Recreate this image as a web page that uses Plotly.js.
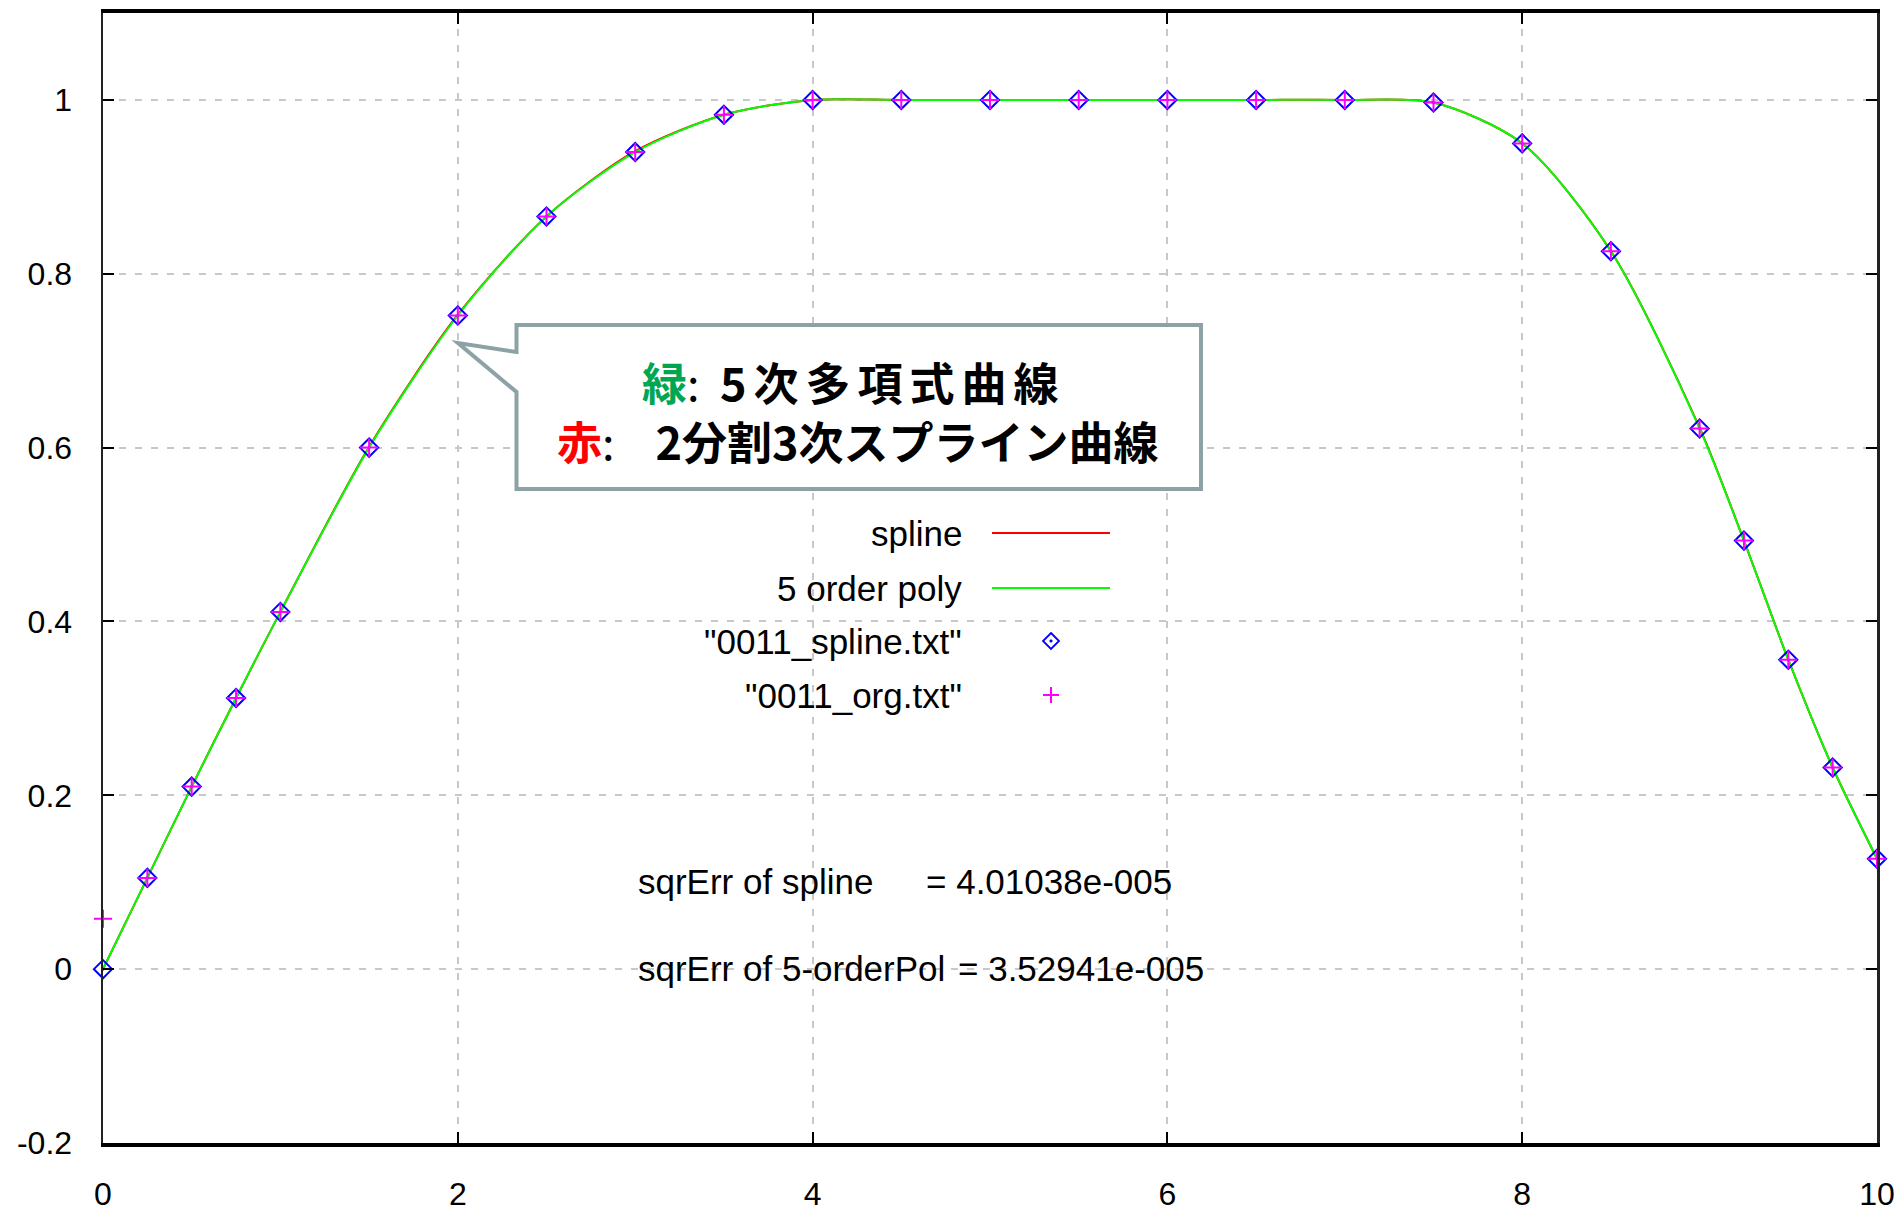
<!DOCTYPE html>
<html>
<head>
<meta charset="utf-8">
<script src="https://cdn.plot.ly/plotly-3.0.1.min.js"></script>
<style>
html,body{margin:0;padding:0;background:#ffffff;}
#chart{width:1897px;height:1212px;}
</style>
</head>
<body>
<div id="chart"></div>
<script>
// ---- data ----
const pointX   = [0, 0.25, 0.5, 0.75, 1, 1.5, 2, 2.5, 3, 3.5, 4, 4.5, 5, 5.5, 6, 6.5, 7, 7.5, 8, 8.5, 9, 9.25, 9.5, 9.75, 10];
const splinePtY = [0, 0.105, 0.210, 0.312, 0.411, 0.600, 0.752, 0.866, 0.940, 0.983, 1, 1, 1, 1, 1, 1, 1, 0.997, 0.950, 0.826, 0.622, 0.493, 0.356, 0.232, 0.127];
const orgPtY    = [0.058, 0.105, 0.210, 0.312, 0.411, 0.600, 0.752, 0.866, 0.940, 0.983, 1, 1, 1, 1, 1, 1, 1, 0.997, 0.950, 0.826, 0.622, 0.493, 0.356, 0.232, 0.127];
const curveX    = [0, 0.25, 0.5, 0.75, 1, 1.5, 2, 2.5, 3, 3.5, 4, 4.5, 5, 5.5, 6, 6.5, 7, 7.5, 8, 8.5, 9, 9.25, 9.5, 9.75, 10];
const splineCurveY = [0, 0.105, 0.210, 0.312, 0.411, 0.601, 0.753, 0.866, 0.941, 0.983, 1, 1, 1, 1, 1, 1, 1, 0.997, 0.950, 0.826, 0.623, 0.493, 0.356, 0.232, 0.127];
const polyCurveY   = [0, 0.105, 0.210, 0.312, 0.411, 0.600, 0.752, 0.866, 0.940, 0.983, 1, 1, 1, 1, 1, 1, 1, 0.997, 0.950, 0.826, 0.622, 0.493, 0.356, 0.232, 0.127];
const xTickVals = [0, 2, 4, 6, 8, 10];
const xTickText = ['0', '2', '4', '6', '8', '10'];
const yTickVals = [-0.2, 0, 0.2, 0.4, 0.6, 0.8, 1];
const yTickText = ['-0.2', '0', '0.2', '0.4', '0.6', '0.8', '1'];
const seriesNames = ['spline', '5 order poly', '"0011_spline.txt"', '"0011_org.txt"'];
const errLabels = ['sqrErr of spline', 'sqrErr of 5-orderPol'];
const errValues = ['= 4.01038e-005', '= 3.52941e-005'];
const calloutLines = [
  '<span style="color:#00a651">緑</span><span style="font-weight:400">:</span>\u00a0\u00a0<span style="letter-spacing:7px">5次多項式曲線</span>',
  '<span style="color:#ff0000">赤</span><span style="font-weight:400">:</span>\u00a0\u00a0\u00a0 2分割3次スプライン曲線'
];

// ---- layout helpers (pixel -> paper) ----
const L = 103, R = 1877, T = 13, B = 1143;
const px = v => (v - L) / (R - L);
const py = v => (B - v) / (B - T);

const txtFont = {family: 'Liberation Sans, Arial, sans-serif', size: 35, color: '#000000'};
const tickFont = {family: 'Liberation Sans, Arial, sans-serif', size: 32, color: '#000000'};

const traces = [
  {x: curveX, y: splineCurveY, mode: 'lines', name: seriesNames[0],
   line: {color: '#ff0000', width: 2, shape: 'spline', smoothing: 0.8}, hoverinfo: 'x+y'},
  {x: curveX, y: polyCurveY, mode: 'lines', name: seriesNames[1],
   line: {color: '#00ff00', width: 2, shape: 'spline', smoothing: 0.8}, hoverinfo: 'x+y'},
  {x: pointX, y: splinePtY, mode: 'markers', name: seriesNames[2], cliponaxis: false,
   marker: {symbol: 'diamond-open-dot', size: 14, color: '#0000ff', line: {width: 2, color: '#0000ff'}}},
  {x: pointX, y: orgPtY, mode: 'markers', name: seriesNames[3], cliponaxis: false,
   marker: {symbol: 'cross-thin-open', size: 13, color: '#ff00ff', line: {width: 2, color: '#ff00ff'}}}
];

// callout box with pointer
const bx0 = 516.5, bx1 = 1201, by0 = 325, by1 = 489;
const tip = [458, 343], j1 = 352, j2 = 392;
const P = (x, y) => px(x).toFixed(5) + ',' + py(y).toFixed(5);
const calloutPath = 'M' + P(bx0, by0) + ' L' + P(bx1, by0) + ' L' + P(bx1, by1) + ' L' + P(bx0, by1) +
  ' L' + P(bx0, j2) + ' L' + P(tip[0], tip[1]) + ' L' + P(bx0, j1) + ' Z';

const keyRows = [533, 588, 641, 695];
const keyTextX = 964, keySampleX0 = 992, keySampleX1 = 1110, keyMarkX = 1051;

const shapes = [
  // opaque key area (hides grid)
  {type: 'rect', xref: 'paper', yref: 'paper', layer: 'between',
   x0: px(497), x1: px(1137), y0: py(742), y1: py(506), fillcolor: '#ffffff', line: {width: 0}},
  // callout
  {type: 'path', xref: 'paper', yref: 'paper', layer: 'above', path: calloutPath,
   fillcolor: '#ffffff', line: {color: '#8da2a5', width: 4}},
  // key line samples
  {type: 'line', xref: 'paper', yref: 'paper', layer: 'above',
   x0: px(keySampleX0), x1: px(keySampleX1), y0: py(keyRows[0]), y1: py(keyRows[0]), line: {color: '#ff0000', width: 2}},
  {type: 'line', xref: 'paper', yref: 'paper', layer: 'above',
   x0: px(keySampleX0), x1: px(keySampleX1), y0: py(keyRows[1]), y1: py(keyRows[1]), line: {color: '#00ff00', width: 2}},
  // key diamond
  {type: 'path', xref: 'paper', yref: 'paper', layer: 'above', xsizemode: 'pixel', ysizemode: 'pixel',
   xanchor: px(keyMarkX), yanchor: py(keyRows[2]), path: 'M0,8 L8,0 L0,-8 L-8,0 Z',
   line: {color: '#0000ff', width: 1.8}},
  {type: 'circle', xref: 'paper', yref: 'paper', layer: 'above', xsizemode: 'pixel', ysizemode: 'pixel',
   xanchor: px(keyMarkX), yanchor: py(keyRows[2]), x0: -1.3, x1: 1.3, y0: -1.3, y1: 1.3,
   fillcolor: '#0000ff', line: {color: '#0000ff', width: 0.5}},
  // key plus
  {type: 'path', xref: 'paper', yref: 'paper', layer: 'above', xsizemode: 'pixel', ysizemode: 'pixel',
   xanchor: px(keyMarkX), yanchor: py(keyRows[3]), path: 'M-8,0 L8,0 M0,-8 L0,8',
   line: {color: '#ff00ff', width: 2}}
];

const annotations = [];
seriesNames.forEach((n, i) => {
  annotations.push({xref: 'paper', yref: 'paper', x: px(keyTextX), y: py(keyRows[i]),
    xanchor: 'right', yanchor: 'middle', showarrow: false, text: n, font: txtFont});
});
const errRows = [881, 968];
const errValueX = [924, 956];
errLabels.forEach((t, i) => {
  annotations.push({xref: 'paper', yref: 'paper', x: px(636), y: py(errRows[i]),
    xanchor: 'left', yanchor: 'middle', showarrow: false, text: t, font: txtFont});
  annotations.push({xref: 'paper', yref: 'paper', x: px(errValueX[i]), y: py(errRows[i]),
    xanchor: 'left', yanchor: 'middle', showarrow: false, text: errValues[i], font: txtFont});
});
const calloutRows = [382, 440];
const calloutStartX = [640, 555];
calloutLines.forEach((t, i) => {
  annotations.push({xref: 'paper', yref: 'paper', x: px(calloutStartX[i]), y: py(calloutRows[i]),
    xanchor: 'left', yanchor: 'middle', showarrow: false, text: t,
    font: {family: 'Noto Sans CJK JP, sans-serif', size: 45, color: '#000000', weight: 700}});
});

const axisCommon = {
  ticks: 'inside', ticklen: 11, tickwidth: 2, tickcolor: '#000000',
  showline: true, mirror: 'ticks', zeroline: false,
  showgrid: true, gridcolor: '#c8c8c8', gridwidth: 2, griddash: '7px,9px',
  tickfont: tickFont, tickmode: 'array', layer: 'above traces'
};

const layout = {
  width: 1897, height: 1212,
  margin: {l: L, r: 1897 - R, t: T, b: 1212 - B, pad: 0},
  paper_bgcolor: '#ffffff', plot_bgcolor: '#ffffff',
  showlegend: false,
  xaxis: Object.assign({}, axisCommon, {range: [0, 10], tickvals: xTickVals, ticktext: xTickText,
    linewidth: 4, linecolor: '#000000', ticklabelstandoff: 20}),
  yaxis: Object.assign({}, axisCommon, {range: [-0.2, 1.1], tickvals: yTickVals, ticktext: yTickText,
    linewidth: 2.5, linecolor: '#222222', ticklabelstandoff: 22}),
  shapes: shapes,
  annotations: annotations
};

Plotly.newPlot('chart', traces, layout, {displayModeBar: false, staticPlot: true});
</script>
</body>
</html>
